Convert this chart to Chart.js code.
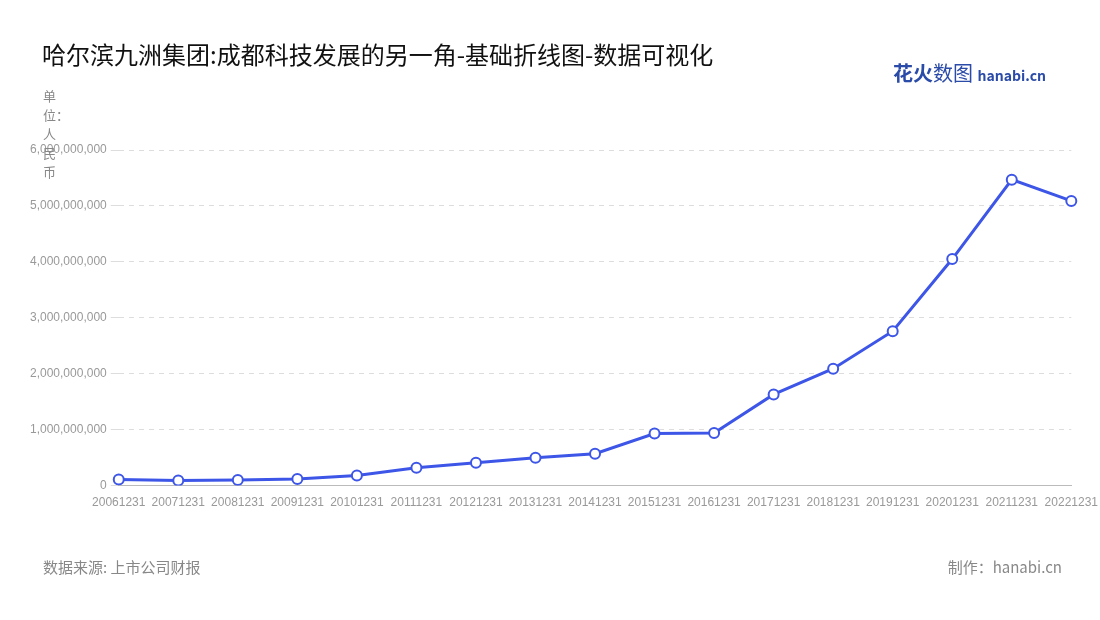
<!DOCTYPE html>
<html><head><meta charset="utf-8">
<script src="https://cdn.jsdelivr.net/npm/chart.js@4/dist/chart.umd.min.js"></script>
<style>
body{margin:0;background:#fff;font-family:"Noto Sans CJK SC","Noto Sans",sans-serif}
#wrap{position:relative;width:1100px;height:620px}
.t{position:absolute;white-space:nowrap}
</style></head><body>
<div id="wrap">
<canvas id="chart" width="1100" height="620"></canvas>
<div class="t" style="left:42px;top:36px;font-size:24px;color:#111">哈尔滨九洲集团:成都科技发展的另一角-基础折线图-数据可视化</div>
<div class="t" style="left:893px;top:58px;font-size:20px;font-weight:bold;color:#2b4ba8">花火<span style="font-weight:normal">数图</span> <span style="font-size:14px">hanabi.cn</span></div>
<div class="t" style="left:43px;top:86px;font-size:13px;color:#888;line-height:19px;width:14px;white-space:normal">单位：人民币</div>
<div class="t" style="left:43px;top:556px;font-size:15px;color:#888">数据来源: 上市公司财报</div>
<div class="t" style="right:38px;top:556px;font-size:15px;color:#888">制作：hanabi.cn</div>
</div>
<script>
const categories = ["20061231","20071231","20081231","20091231","20101231","20111231","20121231","20131231","20141231","20151231","20161231","20171231","20181231","20191231","20201231","20211231","20221231"];
const revenue = [107000000,92000000,100000000,120000000,180000000,320000000,410000000,500000000,570000000,930000000,940000000,1630000000,2090000000,2760000000,4050000000,5470000000,5090000000];

new Chart(document.getElementById("chart"), {
  type: "line",
  data: {
    labels: categories,
    datasets: [{
      data: revenue,
      borderColor: "#3d56e8",
      borderWidth: 3,
      pointRadius: 5,
      pointBackgroundColor: "#fff",
      pointBorderColor: "#3d56e8",
      pointBorderWidth: 2,
      tension: 0
    }]
  },
  options: {
    responsive: false,
    animation: false,
    layout: { padding: { left: 26, right: 18, top: 150, bottom: 108 } },
    plugins: { legend: { display: false }, tooltip: { enabled: false } },
    scales: {
      x: {
        offset: false,
        grid: { display: false },
        border: { color: "#bbb" },
        ticks: { color: "#999", font: { size: 12 }, maxRotation: 0, autoSkip: false, padding: 2 }
      },
      y: {
        min: 0, max: 6000000000,
        ticks: { stepSize: 1000000000, color: "#999", font: { size: 12 }, padding: 4,
          callback: v => v.toLocaleString("en-US") },
        grid: { color: "#ddd" },
        border: { display: false, dash: [5, 5] }
      }
    }
  }
});
</script>
</body></html>
